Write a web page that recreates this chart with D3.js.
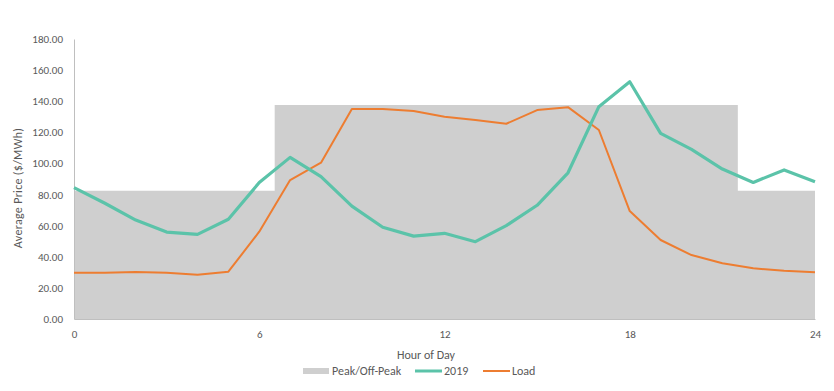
<!DOCTYPE html>
<html>
<head>
<meta charset="utf-8">
<script src="https://cdn.jsdelivr.net/npm/d3@7"></script>
<style>
  body { margin: 0; background: #fff; }
  svg { display: block; font-family: Calibri, Carlito, "Liberation Sans", "Open Sans", sans-serif; }
</style>
</head>
<body>
<div id="chart"></div>
<script>
const hours = d3.range(0, 25)
const price2019 = [84.5, 74.4, 63.6, 55.9, 54.4, 64.1, 87.7, 103.9, 91.5, 72.6, 59.0, 53.3, 55.1,
  49.7, 60.0, 73.1, 94.0, 136.5, 152.5, 119.3, 109.0, 96.4, 87.8, 95.8, 88.3]
const load = [29.8, 29.8, 30.2, 29.8, 28.5, 30.4, 56.1, 89.3, 100.5, 135.0, 135.0, 133.7, 130.0,
  127.9, 125.5, 134.3, 136.2, 121.5, 69.4, 50.8, 41.1, 35.8, 32.6, 31.0, 30.0]
// peak / off-peak block: [hour, level]
const peakHours = [0, 6.5, 6.5, 21.5, 21.5, 24]
const peakLevels = [82.5, 82.5, 137.5, 137.5, 82.5, 82.5]
const yTicks = [0, 20, 40, 60, 80, 100, 120, 140, 160, 180]
const xTicks = [0, 6, 12, 18, 24]

const width = 834, height = 391
const margin = { top: 39, right: 19, bottom: 72, left: 74 }

const svg = d3.select('#chart').append('svg')
  .attr('width', width).attr('height', height)

const x = d3.scaleLinear().domain([0, 24]).range([margin.left, width - margin.right])
const y = d3.scaleLinear().domain([0, 180]).range([height - margin.bottom, margin.top])

/* peak area */
const peakData = peakHours.map((h, i) => ({ h, v: peakLevels[i] }))
svg.append('path')
  .datum(peakData)
  .attr('fill', '#cfcfcf')
  .attr('d', d3.area().x(d => x(d.h)).y0(y(0)).y1(d => y(d.v)))

/* axes */
const yAxis = svg.append('g')
  .attr('transform', `translate(${margin.left},0)`)
  .call(d3.axisLeft(y).tickValues(yTicks).tickSize(0).tickPadding(11).tickFormat(d3.format('.2f')))
yAxis.select('.domain').attr('stroke', '#bfbfbf')

const xAxis = svg.append('g')
  .attr('transform', `translate(0,${y(0)})`)
  .call(d3.axisBottom(x).tickValues(xTicks).tickSize(0).tickPadding(11))
xAxis.select('.domain').attr('stroke', '#bfbfbf')

svg.selectAll('.tick text')
  .attr('fill', '#595959')
  .style('font-size', '11px')
  .style('font-family', 'Calibri, Carlito, "Liberation Sans", sans-serif')

/* lines */
const line = d3.line().x((d, i) => x(hours[i])).y(d => y(d))
svg.append('path').datum(load)
  .attr('fill', 'none').attr('stroke', '#ed7d31').attr('stroke-width', 2)
  .attr('stroke-linejoin', 'round')
  .attr('d', line)
svg.append('path').datum(price2019)
  .attr('fill', 'none').attr('stroke', '#5bc3a9').attr('stroke-width', 3.2)
  .attr('stroke-linejoin', 'round')
  .attr('d', line)

/* titles */
svg.append('text')
  .attr('transform', 'translate(22,188) rotate(-90)')
  .attr('text-anchor', 'middle')
  .attr('fill', '#595959').style('font-size', '12px').style('letter-spacing', '0.3px')
  .text('Average Price ($/MWh)')

svg.append('text')
  .attr('x', 426).attr('y', 359)
  .attr('text-anchor', 'middle')
  .attr('fill', '#595959').style('font-size', '12px')
  .text('Hour of Day')

/* legend */
const legendItems = [
  { label: 'Peak/Off-Peak', type: 'rect', color: '#cfcfcf', x: 303 },
  { label: '2019', type: 'line', color: '#5bc3a9', w: 3, x: 415 },
  { label: 'Load', type: 'line', color: '#ed7d31', w: 2, x: 483 }
]
const legend = svg.append('g').attr('transform', 'translate(0,371)')
legendItems.forEach(d => {
  if (d.type === 'rect') {
    legend.append('rect').attr('x', d.x).attr('y', -3).attr('width', 26).attr('height', 6).attr('fill', d.color)
  } else {
    legend.append('line').attr('x1', d.x).attr('x2', d.x + 27).attr('y1', 0).attr('y2', 0)
      .attr('stroke', d.color).attr('stroke-width', d.w)
  }
  legend.append('text').attr('x', d.x + 29).attr('y', 4)
    .attr('fill', '#595959').style('font-size', '12px')
    .text(d.label)
})
</script>
</body>
</html>
